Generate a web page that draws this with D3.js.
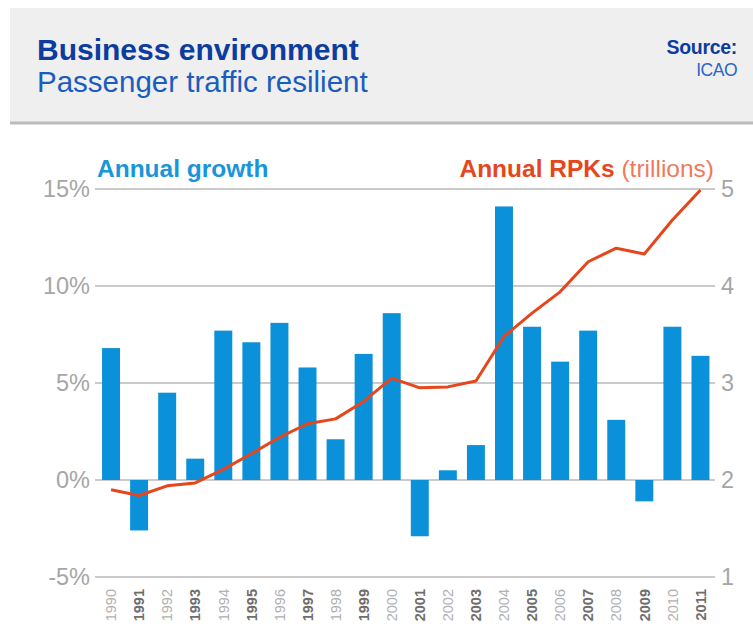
<!DOCTYPE html>
<html>
<head>
<meta charset="utf-8">
<script src="https://cdn.jsdelivr.net/npm/d3@7"></script>
<style>
  body { margin: 0; background: #fff; }
  svg { display: block; font-family: "Liberation Sans", Arial, Helvetica, sans-serif; }
</style>
</head>
<body>
<div id="chart"></div>
<script>
// annual growth in passenger traffic (%), and RPKs (trillions)
var years = ["1990","1991","1992","1993","1994","1995","1996","1997","1998","1999","2000",
             "2001","2002","2003","2004","2005","2006","2007","2008","2009","2010","2011"];
var growth = [6.8, -2.6, 4.5, 1.1, 7.7, 7.1, 8.1, 5.8, 2.1, 6.5, 8.6,
              -2.9, 0.5, 1.8, 14.1, 7.9, 6.1, 7.7, 3.1, -1.1, 7.9, 6.4];
var rpks = [1.90, 1.84, 1.94, 1.97, 2.11, 2.27, 2.44, 2.58, 2.63, 2.81, 3.05,
            2.95, 2.96, 3.02, 3.48, 3.72, 3.94, 4.25, 4.39, 4.33, 4.68, 4.99];
var growthTicks = [-5, 0, 5, 10, 15];
var rpkTicks = [1, 2, 3, 4, 5];

var W = 753, H = 630;
var blue = "#0b91d9", red = "#e5461b";

var svg = d3.select("#chart").append("svg")
    .attr("width", W)
    .attr("height", H);

// header panel
svg.append("rect")
  .attr("x", 10).attr("y", 8)
  .attr("width", W - 10).attr("height", 114)
  .attr("fill", "#efefef");
svg.append("line")
  .attr("x1", 10).attr("x2", W)
  .attr("y1", 123).attr("y2", 123)
  .attr("stroke", "#bcbcbc")
  .attr("stroke-width", 3);

svg.append("text")
  .attr("x", 37).attr("y", 60)
  .attr("font-size", 30).attr("font-weight", "bold")
  .attr("fill", "#0c3c9f")
  .text("Business environment");
svg.append("text")
  .attr("x", 37).attr("y", 92)
  .attr("font-size", 29.5)
  .attr("fill", "#1b5cbf")
  .text("Passenger traffic resilient");
svg.append("text")
  .attr("x", 737).attr("y", 54)
  .attr("text-anchor", "end")
  .attr("font-size", 19.5).attr("font-weight", "bold")
  .attr("fill", "#0c3c9f")
  .attr("letter-spacing", -0.3)
  .text("Source:");
svg.append("text")
  .attr("x", 737).attr("y", 76)
  .attr("text-anchor", "end")
  .attr("font-size", 17.5)
  .attr("fill", "#2a66c6")
  .attr("letter-spacing", -0.5)
  .text("ICAO");

//scales
var x = d3.scaleBand()
    .domain(years)
    .range([97, 714.5])
    .paddingInner(0.36)
    .paddingOuter(0.18);
var yL = d3.scaleLinear()
    .domain([-5, 15])
    .range([577, 189]);
var yR = d3.scaleLinear()
    .domain([1, 5])
    .range([577, 189]);

// gridlines
svg.append("g").selectAll("line")
  .data(growthTicks)
  .enter().append("line")
  .attr("x1", 95)
  .attr("x2", 715)
  .attr("y1", function(d) {return yL(d);})
  .attr("y2", function(d) {return yL(d);})
  .attr("stroke", "#b9b9b9")
  .attr("stroke-width", 1.5);

// left axis labels
svg.append("g").selectAll("text")
  .data(growthTicks)
  .enter().append("text")
  .attr("x", 90)
  .attr("y", function(d) {return yL(d);})
  .attr("dy", "0.36em")
  .attr("text-anchor", "end")
  .attr("font-size", 23.5)
  .attr("fill", "#a6a6a6")
  .text(function(d) {return d + "%";});

// right axis labels
svg.append("g").selectAll("text")
  .data(rpkTicks)
  .enter().append("text")
  .attr("x", 721)
  .attr("y", function(d) {return yR(d);})
  .attr("dy", "0.36em")
  .attr("font-size", 23.5)
  .attr("fill", "#a6a6a6")
  .text(function(d) {return d;});

// bars
svg.append("g").selectAll("rect")
  .data(growth)
  .enter().append("rect")
  .attr("x", function(d, i) {return x(years[i]);})
  .attr("width", x.bandwidth())
  .attr("y", function(d) {return yL(Math.max(0, d));})
  .attr("height", function(d) {return Math.abs(yL(d) - yL(0));})
  .attr("fill", blue);

// RPK line
var line = d3.line()
    .x(function(d, i) {return x(years[i]) + x.bandwidth() / 2;})
    .y(function(d) {return yR(d);});
svg.append("path")
  .datum(rpks)
  .attr("d", line)
  .attr("fill", "none")
  .attr("stroke", red)
  .attr("stroke-width", 3)
  .attr("stroke-linejoin", "round");

// year labels, odd years bold
svg.append("g").selectAll("text")
  .data(years)
  .enter().append("text")
  .attr("transform", function(d) {return "translate(" + (x(d) + x.bandwidth() / 2) + ",589) rotate(-90)";})
  .attr("dy", "0.36em")
  .attr("text-anchor", "end")
  .attr("font-size", 14.5)
  .attr("font-weight", function(d) {return +d % 2 ? "bold" : "normal";})
  .attr("fill", function(d) {return +d % 2 ? "#6e6e6e" : "#b0b0b0";})
  .text(function(d) {return d;});

// series titles
svg.append("text")
  .attr("x", 97).attr("y", 177)
  .attr("font-size", 24.5).attr("font-weight", "bold")
  .attr("fill", "#1a95d9")
  .text("Annual growth");
var rt = svg.append("text")
  .attr("x", 714).attr("y", 177)
  .attr("text-anchor", "end")
  .attr("font-size", 24.5);
rt.append("tspan")
  .attr("font-weight", "bold")
  .attr("fill", red)
  .text("Annual RPKs ");
rt.append("tspan")
  .attr("fill", "#ef7a5a")
  .text("(trillions)");
</script>
</body>
</html>
